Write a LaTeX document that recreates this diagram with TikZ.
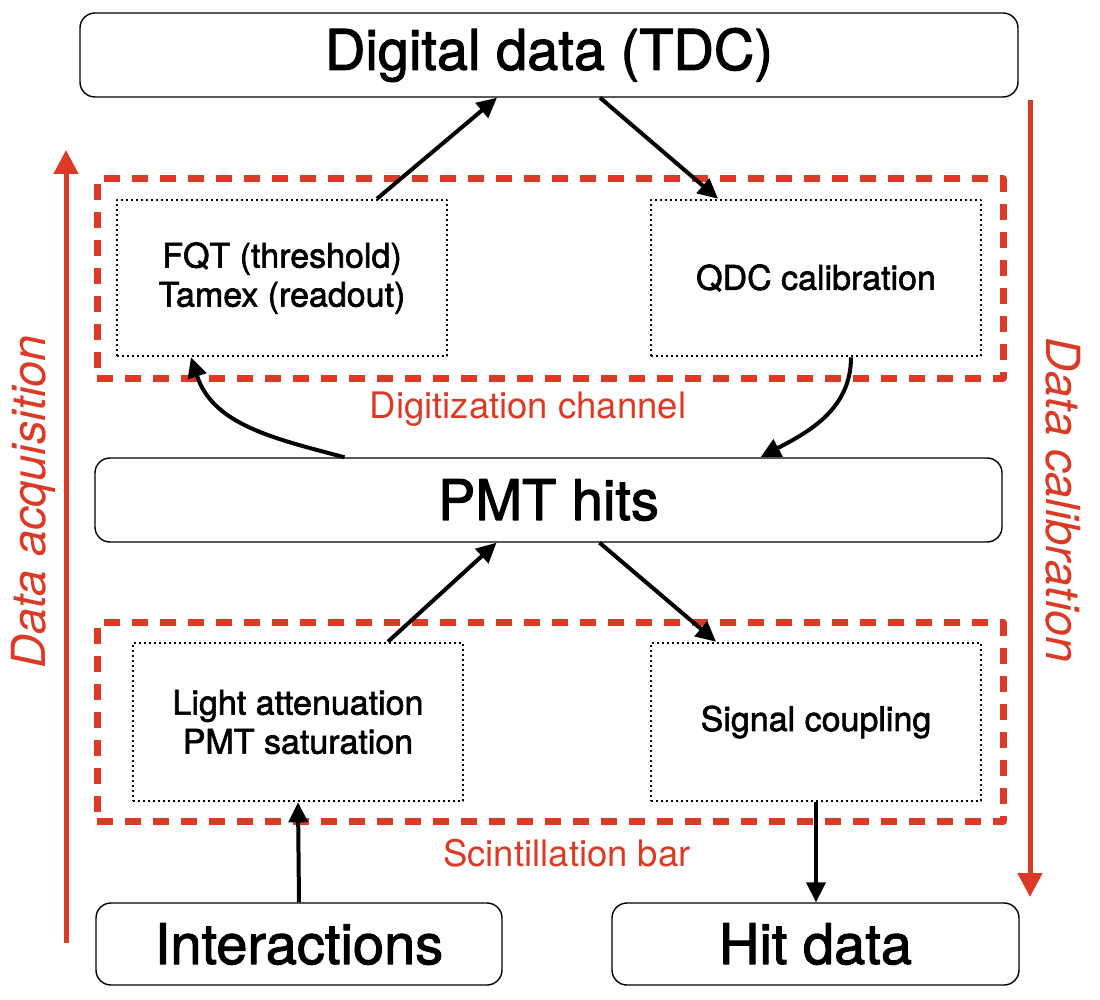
\documentclass[tikz,border=0pt]{standalone}
\usepackage{fontspec}
\setmainfont{TeX Gyre Heros}
\newfontfamily\medfont{TeX Gyre Heros}[FakeBold=1.8]
\usetikzlibrary{arrows.meta}
\definecolor{accred}{HTML}{DB3B26}

\begin{document}
\begin{tikzpicture}[x=1pt,y=-1pt,line join=round,
  >={Triangle[length=20pt,width=19pt]},
  bigbox/.style={draw,rounded corners=15pt,line width=1.4pt,inner sep=0pt,
    font=\medfont\fontsize{56}{60}\selectfont},
  stagebox/.style={draw,line width=2.6pt,dash pattern=on 2.4pt off 2.6pt,
    minimum width=330pt,inner sep=0pt,align=center,
    font=\medfont\fontsize{34}{39}\selectfont},
  groupbox/.style={draw=accred,line width=7pt,dash pattern=on 16pt off 12pt,
    minimum width=906pt,minimum height=199pt,inner sep=0pt},
  grouplabel/.style={text=accred,font=\fontsize{36.5}{40}\selectfont},
  flow/.style={->,line width=4pt},
  sidearrow/.style={-{Triangle[length=24pt,width=24pt]},draw=accred,line width=5pt},
  sidelabel/.style={text=accred,font=\fontsize{47}{50}\selectfont\itshape}]
\useasboundingbox (0,0) rectangle (1100,1000);

\node[groupbox] (digi) at (550,278.5) {};
\node[groupbox] (scint) at (550,722) {};
\node[grouplabel] (digilbl) at (528,409) {Digitization channel};
\node[grouplabel] (scintlbl) at (567,853) {Scintillation bar};

\node[bigbox,minimum width=938pt,minimum height=84pt] (Dig) at (549,55) {Digital data (TDC)};
\node[bigbox,minimum width=907pt,minimum height=84pt] (PMT) at (548.5,500) {PMT hits};
\node[bigbox,minimum width=406pt,minimum height=82pt] (Inter) at (299,944) {Interactions};
\node[bigbox,minimum width=407pt,minimum height=82pt] (Hit) at (815.5,944) {Hit data};

\node[stagebox,minimum height=156pt] (FQT) at (282,278) {FQT (threshold)\\Tamex (readout)};
\node[stagebox,minimum height=156pt] (QDC) at (816,278) {QDC calibration};
\node[stagebox,minimum height=158pt] (Light) at (298,722) {Light attenuation\\PMT saturation};
\node[stagebox,minimum height=158pt] (Sig) at (816,722) {Signal coupling};

\draw[flow] ([xshift=95pt]FQT.north) -- ([xshift=-52pt]Dig.south);
\draw[flow] ([xshift=51pt]Dig.south) -- ([xshift=-98pt]QDC.north);
\draw[flow] ([xshift=-204pt]PMT.north) to[out=165,in=-72] ([xshift=-91pt]FQT.south);
\draw[flow] ([xshift=35pt]QDC.south) to[out=-90,in=28] ([xshift=212pt]PMT.north);
\draw[flow] ([xshift=51pt]PMT.south) -- ([xshift=-100pt]Sig.north);
\draw[flow] ([xshift=90pt]Light.north) -- ([xshift=-52pt]PMT.south);
\draw[flow] (Inter.north) -- (Light.south);
\draw[flow] (Sig.south) -- (Sig.south |- Hit.north);

\coordinate (acqS) at (66,943);
\coordinate (acqE) at (66,150);
\coordinate (calS) at (1030,100);
\coordinate (calE) at (1030,897);
\draw[sidearrow] (acqS) -- (acqE);
\draw[sidearrow] (calS) -- (calE);
\node[sidelabel,rotate=90] (acqlbl) at (33,502) {Data acquisition};
\node[sidelabel,rotate=-90] (callbl) at (1063,500) {Data calibration};
\end{tikzpicture}
\end{document}
